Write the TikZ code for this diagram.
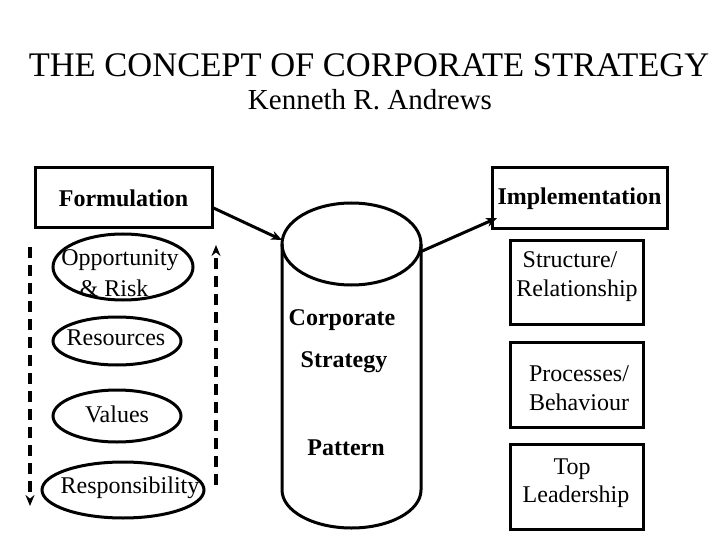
\documentclass[tikz,border=0pt]{standalone}
\usepackage{fontspec}
\setmainfont{Liberation Serif}
\usetikzlibrary{arrows.meta}
\begin{document}
\begin{tikzpicture}[x=1pt,y=-1pt,line width=3pt,
 box/.style={draw,rectangle,line width=3pt},
 txt/.style={font=\fontsize{24}{28}\selectfont,align=center},
 btxt/.style={font=\bfseries\fontsize{24}{28}\selectfont,align=center},
 arr/.style={-{Stealth[length=11pt,width=9pt]}},
 dsh/.style={dash pattern=on 11pt off 7pt,line width=3.5pt}]
\useasboundingbox (0,0) rectangle (720,540);
\node[font=\fontsize{34.5}{40}\selectfont] (title) at (369,65) {THE CONCEPT OF CORPORATE STRATEGY};
\node[font=\fontsize{29}{34}\selectfont] (sub) at (370,100) {Kenneth R. Andrews};
\node[box,minimum width=177pt,minimum height=60pt,btxt] (form) at (123.5,198) {Formulation};
\node[box,minimum width=175pt,minimum height=61pt,btxt] (impl) at (579.5,198.5) {Implementation};
% cylinder
\draw (282,244) -- (282,490) arc[start angle=180,end angle=0,x radius=69.5,y radius=38] -- (421,244);
\draw (351.5,244) ellipse[x radius=69.5,y radius=41];
\coordinate (cl) at (282,240);
\coordinate (cr) at (420,252);
\node[btxt] (c1) at (342,320) {Corporate};
\node[btxt] (c2) at (344,362) {Strategy};
\node[btxt] (c3) at (346,448) {Pattern};
\draw[arr] (form.east |- 0,208) -- (cl);
\draw[arr] (cr) -- (497,218);
% right boxes
\node[box,minimum width=133pt,minimum height=84pt] (b1) at (576.5,282) {};
\node[box,minimum width=133pt,minimum height=85pt] (b2) at (576.5,384.5) {};
\node[box,minimum width=133pt,minimum height=85pt] (b3) at (576.5,486.5) {};
\node[txt] (t1) at (570,260) {Structure/};
\node[txt] (t2) at (577,291) {Relationship};
\node[txt] (t3) at (579,374) {Processes/};
\node[txt] (t4) at (579,402) {Behaviour};
\node[txt] (t5) at (572,469) {Top};
\node[txt] (t6) at (576,497) {Leadership};
% ellipses
\draw (123,267) ellipse[x radius=70,y radius=33];
\node[txt,inner sep=0pt] (e1) at (120,260) {Opportunity};
\node[txt,inner sep=0pt] (e1b) at (114,288) {\& Risk};
\draw (117,341) ellipse[x radius=64,y radius=24];
\node[txt] (e2) at (116,338) {Resources};
\draw (117,416) ellipse[x radius=64,y radius=26];
\node[txt] (e3) at (117,414) {Values};
\draw (123,490) ellipse[x radius=81,y radius=28];
\node[txt] (e4) at (130,488) {Responsibility};
% dashed arrows
\coordinate (l1) at (30,247); \coordinate (l2) at (30,506);
\coordinate (r1) at (216,485); \coordinate (r2) at (216,245);
\draw[dsh,arr] (l1) -- (l2);
\draw[dsh,arr] (r1) -- (r2);
\end{tikzpicture}
\end{document}
